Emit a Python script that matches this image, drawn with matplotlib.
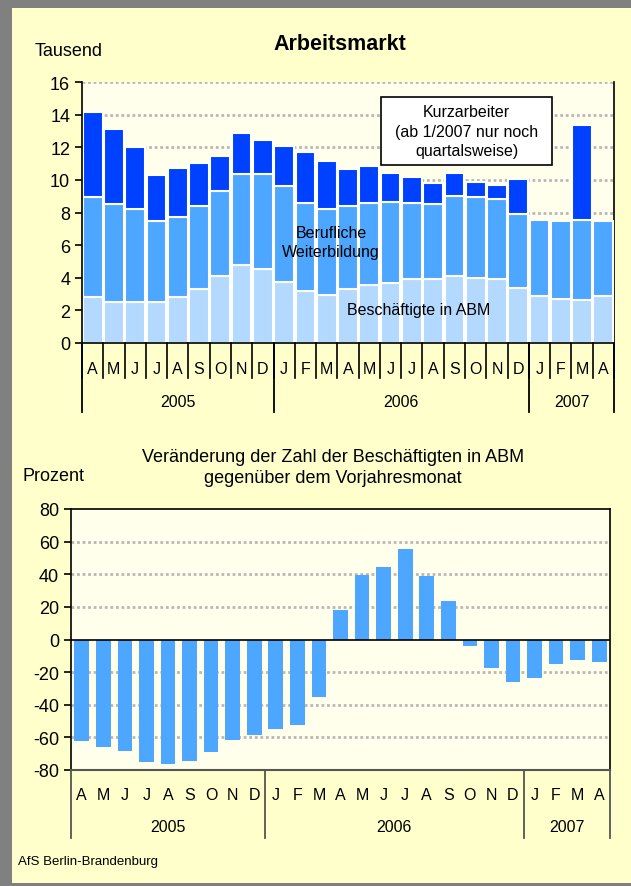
import numpy as np
import matplotlib.pyplot as plt
from matplotlib.patches import Rectangle

plt.rcParams['font.family'] = ['Liberation Sans', 'DejaVu Sans']
plt.rcParams['axes.unicode_minus'] = False

# Monate April 2005 bis April 2007
months = ['A', 'M', 'J', 'J', 'A', 'S', 'O', 'N', 'D',
          'J', 'F', 'M', 'A', 'M', 'J', 'J', 'A', 'S', 'O', 'N', 'D',
          'J', 'F', 'M', 'A']
years = ['2005', '2006', '2007']
year_len = [9, 12, 4]

# Tausend
abm = [2.82, 2.53, 2.53, 2.50, 2.82, 3.33, 4.12, 4.78, 4.55,
       3.75, 3.20, 2.94, 3.31, 3.53, 3.65, 3.90, 3.94, 4.08, 3.98, 3.94, 3.37,
       2.86, 2.71, 2.61, 2.86]
weiterbildung = [6.16, 6.00, 5.67, 4.97, 4.89, 5.06, 5.17, 5.61, 5.82,
                 5.86, 5.37, 5.28, 5.07, 5.08, 5.02, 4.71, 4.57, 4.96, 4.96, 4.90, 4.55,
                 4.65, 4.74, 4.94, 4.63]
kurzarbeit = [5.16, 4.59, 3.80, 2.82, 3.00, 2.63, 2.20, 2.47, 2.10,
              2.45, 3.12, 2.94, 2.29, 2.23, 1.76, 1.59, 1.31, 1.39, 0.92, 0.85, 2.14,
              0.0, 0.0, 5.82, 0.0]

# Veraenderung ABM gegenueber Vorjahresmonat in Prozent
veraenderung = [-62.4, -66.1, -68.5, -75.3, -76.1, -74.7, -69.2, -61.8, -58.3,
                -55.0, -52.6, -35.4, 17.8, 39.3, 44.4, 55.2, 38.7, 23.3, -4.1, -17.2, -26.2,
                -23.7, -15.1, -12.7, -13.9]

c_dark = '#0040FF'
c_mid = '#4DA6FF'
c_light = '#B3D9FF'
bg = '#FFFFCC'
plot_bg = '#FFFFEC'
grid_kw = dict(color='#B8B8B8', lw=2.0, ls=(0, (1, 1)), zorder=0.5)

W, H = 631, 887
fig = plt.figure(figsize=(W / 100, H / 100), dpi=100)
fig.patch.set_facecolor('#808080')
fig.patches.append(Rectangle((12 / W, 3 / H), 1 - 12 / W, 1 - 12 / H,
                             transform=fig.transFigure, facecolor=bg,
                             edgecolor='none', zorder=-10))

x = np.arange(len(months))
bounds = np.concatenate([[0], np.cumsum(year_len)]) - 0.5
year_mid = (bounds[:-1] + bounds[1:]) / 2


def month_axis(ax, lab_y, year_y, sep_y, month_sep_y, sep_color):
    tr = ax.get_xaxis_transform()
    for xi, m in zip(x, months):
        ax.text(xi, lab_y, m, transform=tr, ha='center', va='center', fontsize=11.5)
    for xm, yr in zip(year_mid, years):
        ax.text(xm, year_y, yr, transform=tr, ha='center', va='center', fontsize=11.5)
    if month_sep_y is not None:
        for b in np.arange(len(months) + 1) - 0.5:
            ax.plot([b, b], [0, month_sep_y], transform=tr, color=sep_color,
                    lw=1.2, clip_on=False)
    for b in bounds:
        ax.plot([b, b], [0, sep_y], transform=tr, color=sep_color, lw=1.3, clip_on=False)


# ---- oberes Diagramm ----
ax1 = fig.add_axes([82 / W, 1 - 344 / H, 532 / W, 261 / H])
ax1.set_facecolor(plot_bg)
for v in range(2, 17, 2):
    ax1.axhline(v, **grid_kw)
bot2 = np.array(abm) + np.array(weiterbildung)
ax1.bar(x, abm, width=0.93, color=c_light, edgecolor='white', lw=1.5, zorder=2)
ax1.bar(x, weiterbildung, bottom=abm, width=0.93, color=c_mid, edgecolor='white',
        lw=1.5, zorder=2)
ka = np.array(kurzarbeit)
ax1.bar(x[ka > 0], ka[ka > 0], bottom=bot2[ka > 0], width=0.93, color=c_dark,
        edgecolor='white', lw=1.5, zorder=2)
ax1.set_xlim(-0.5, len(months) - 0.5)
ax1.set_ylim(0, 16)
ax1.set_yticks(range(0, 17, 2))
ax1.tick_params(axis='y', labelsize=13, length=5, width=1.2, direction='out')
ax1.set_xticks([])
ax1.spines['top'].set_visible(False)
for s in ['left', 'right', 'bottom']:
    ax1.spines[s].set_color('black')
    ax1.spines[s].set_linewidth(1.2)
ax1.spines['right'].set_zorder(1)
month_axis(ax1, -0.096, -0.226, -0.264, -0.134, 'black')

ax1.text(11.2, 6.2, 'Berufliche\nWeiterbildung', ha='center', va='center',
         fontsize=11.5, linespacing=1.3, zorder=5)
ax1.text(15.3, 2.05, 'Beschäftigte in ABM', ha='center', va='center',
         fontsize=11.5, zorder=5)
ax1.add_patch(Rectangle((0.562, 0.682), 0.322, 0.26, transform=ax1.transAxes,
                        facecolor='white', edgecolor='black', lw=1.2, zorder=6))
ax1.text(0.723, 0.812, 'Kurzarbeiter\n(ab 1/2007 nur noch\nquartalsweise)',
         transform=ax1.transAxes, ha='center', va='center', fontsize=11.5,
         linespacing=1.35, zorder=7)

fig.text(340 / W, 1 - 45 / H, 'Arbeitsmarkt', ha='center', va='center',
         fontsize=15.5, fontweight='bold')
fig.text(35 / W, 1 - 52 / H, 'Tausend', ha='left', va='center', fontsize=13)

# ---- unteres Diagramm ----
ax2 = fig.add_axes([71 / W, 1 - 771 / H, 539 / W, 261 / H])
ax2.set_facecolor(plot_bg)
for v in range(-80, 80, 20):
    if v != 0:
        ax2.axhline(v, **grid_kw)
ax2.bar(x, veraenderung, width=0.68, color=c_mid, zorder=2)
ax2.axhline(0, color='black', lw=1.2, zorder=3)
ax2.set_xlim(-0.5, len(months) - 0.5)
ax2.set_ylim(-80, 80)
ax2.set_yticks(range(-80, 81, 20))
ax2.tick_params(axis='y', labelsize=13, length=5, width=1.2, direction='out')
ax2.set_xticks([])
for s in ['left', 'right', 'top']:
    ax2.spines[s].set_color('black')
    ax2.spines[s].set_linewidth(1.2)
ax2.spines['bottom'].set_color('#555555')
ax2.spines['bottom'].set_linewidth(1.5)
month_axis(ax2, -0.092, -0.218, -0.26, None, '#555555')

fig.text(333 / W, 1 - 468 / H,
         'Veränderung der Zahl der Beschäftigten in ABM\ngegenüber dem Vorjahresmonat',
         ha='center', va='center', fontsize=13, linespacing=1.3)
fig.text(22 / W, 1 - 477 / H, 'Prozent', ha='left', va='center', fontsize=13)
fig.text(18 / W, 1 - 862 / H, 'AfS Berlin-Brandenburg', ha='left', va='center',
         fontsize=9.5)

fig.savefig('out.png', dpi=100, facecolor=fig.get_facecolor())
